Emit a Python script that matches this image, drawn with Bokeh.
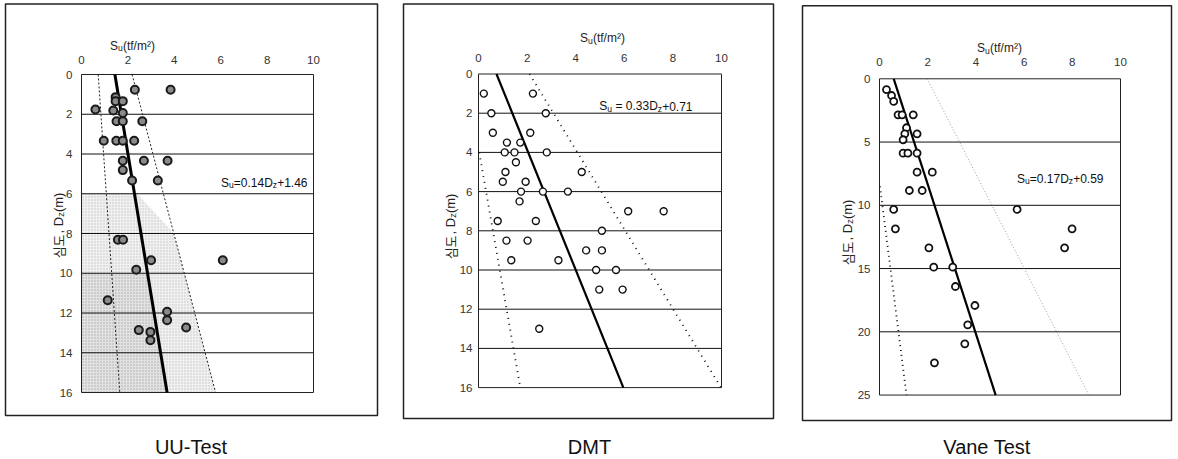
import math
from bokeh.plotting import figure
from bokeh.models import Range1d, LinearAxis, FixedTicker
from bokeh.layouts import row
from bokeh.embed import file_html
from bokeh.resources import INLINE
from bokeh.core.properties import value

# ---------------- data ----------------
# UU-Test
uu_su = [2.30, 3.84, 1.47, 1.47, 1.78, 0.60, 1.37, 1.78, 1.51, 1.78, 2.62, 0.96, 1.50, 1.78, 2.27,
         1.78, 2.69, 3.71, 1.78, 2.18, 3.29, 1.57, 1.79, 3.00, 6.09, 2.36, 1.13, 3.69, 3.69, 4.51,
         2.47, 2.97, 2.97]
uu_d = [0.77, 0.77, 1.14, 1.34, 1.34, 1.76, 1.81, 1.94, 2.35, 2.35, 2.35, 3.33, 3.33, 3.33, 3.33,
        4.34, 4.34, 4.34, 4.81, 5.33, 5.33, 8.31, 8.31, 9.35, 9.35, 9.82, 11.36, 11.94, 12.36, 12.73,
        12.86, 12.95, 13.37]
uu_fit_su = [1.44, 3.69]
uu_fit_d = [0, 16]
uu_up_su = [2.18, 5.78]
uu_up_d = [0, 16]
uu_lo_su = [0.72, 1.65]
uu_lo_d = [0, 16]
uu_light_su = [0, 2.4, 3.98, 5.78, 0]
uu_light_d = [6, 6, 8, 16, 16]
uu_dark_su = [0, 2.86, 3.69, 0]
uu_dark_d = [10, 10, 16, 16]
uu_xticks = [0, 2, 4, 6, 8, 10]
uu_yticks = [0, 2, 4, 6, 8, 10, 12, 14, 16]
uu_grid = [2, 4, 6, 8, 10, 12, 14]

# DMT
dmt_su = [0.22, 2.24, 0.53, 2.77, 0.59, 2.13, 1.17, 1.72, 1.08, 1.48, 2.81, 1.54, 4.25, 1.11, 1.00,
          1.94, 1.75, 2.65, 3.68, 1.69, 6.16, 7.62, 0.79, 2.36, 5.08, 1.15, 2.02, 4.43, 5.08, 1.35,
          3.29, 4.84, 5.66, 4.97, 5.93, 2.50]
dmt_d = [1.0, 1.0, 2.0, 2.0, 3.0, 3.0, 3.5, 3.5, 4.0, 4.0, 4.0, 4.5, 5.0, 5.0, 5.5, 5.5, 6.0, 6.0,
         6.0, 6.5, 7.0, 7.0, 7.5, 7.5, 8.0, 8.5, 8.5, 9.0, 9.0, 9.5, 9.5, 10.0, 10.0, 11.0, 11.0, 13.0]
dmt_fit_su = [0.74, 5.96]
dmt_fit_d = [0, 16]
dmt_up_su = [2.10, 9.98]
dmt_up_d = [0, 16]
dmt_lo_su = [0.03, 1.72]
dmt_lo_d = [4.0, 16]
dmt_xticks = [0, 2, 4, 6, 8, 10]
dmt_yticks = [0, 2, 4, 6, 8, 10, 12, 14, 16]
dmt_grid = [2, 4, 6, 8, 10, 12, 14]

# Vane Test
vane_su = [0.29, 0.50, 0.59, 0.77, 0.94, 1.40, 1.12, 1.05, 1.56, 0.98, 0.98, 1.18, 1.56, 1.56, 2.19,
           1.24, 1.77, 0.59, 5.71, 0.66, 7.99, 2.05, 7.68, 2.25, 3.04, 3.15, 3.96, 3.66, 3.54, 2.28]
vane_d = [0.85, 1.32, 1.79, 2.85, 2.85, 2.85, 3.87, 4.35, 4.35, 4.82, 5.88, 5.88, 5.88, 7.38, 7.38,
          8.83, 8.83, 10.33, 10.33, 11.86, 11.86, 13.36, 13.36, 14.89, 14.89, 16.42, 17.92, 19.45,
          20.95, 22.45]
vane_fit_su = [0.59, 4.82]
vane_fit_d = [0, 25]
vane_lo_su = [0.02, 1.12]
vane_lo_d = [8.5, 25]
vane_up_su = [1.98, 8.69]
vane_up_d = [0, 25]
vane_xticks = [0, 2, 4, 6, 8, 10]
vane_yticks = [0, 5, 10, 15, 20, 25]
vane_grid = [5, 10, 15, 20]

titles = ["UU-Test", "DMT", "Vane Test"]
x_title = [("S", "n"), ("u", "sub"), ("(tf/m\u00b2)", "n")]
y_title = [("\uc2ec\ub3c4", "cjk"), (",", "n"), (" ", "gap"), ("D", "n"), ("z", "sub"), ("(m)", "n")]
eq_uu = [("S", "n"), ("u", "sub"), ("=0.14D", "n"), ("z", "sub"), ("+1.46", "n")]
eq_dmt = [("S", "n"), ("u", "sub"), (" ", "gap"), ("=", "n"), (" ", "gap"), ("0.33D", "n"),
          ("z", "sub"), ("+0.71", "n")]
eq_vane = [("S", "n"), ("u", "sub"), ("=0.17D", "n"), ("z", "sub"), ("+0.59", "n")]

# ---------------- text helpers ----------------
FONT = "Liberation Sans"
CJK = "Noto Sans CJK KR"
EM = {' ': .278, ',': .278, '.': .278, '(': .333, ')': .333, '/': .278, '=': .584, '+': .584,
      '-': .333, 'D': .722, 'S': .667, 'T': .611, 'M': .833, 'U': .722, 'V': .667, 'a': .556,
      'e': .556, 'f': .278, 'm': .833, 'n': .556, 's': .5, 't': .278, 'u': .556, 'z': .5,
      '\u00b2': .333}


def seg_width(text, kind, size):
    fs = size * 0.72 if kind == "sub" else size
    if kind == "cjk":
        return len(text) * fs * 0.96
    return sum(EM.get(c, .556) for c in text) * fs


def rich_text(p, x, y, segs, size, align="left", angle=0.0, color="#111111"):
    widths = [seg_width(t, k, size) for t, k in segs]
    total = sum(widths)
    off = {"left": 0.0, "center": -total / 2, "right": -total}[align]
    for (t, k), w in zip(segs, widths):
        if k != "gap":
            fs = size * 0.72 if k == "sub" else size
            shift = 0.22 * size if k == "sub" else 0.0
            if angle == 0:
                xo, yo = off, shift
            else:
                xo, yo = shift, -off
            p.text(x=[x], y=[y], text=[t], x_offset=xo, y_offset=yo, angle=angle,
                   text_font=value(CJK if k == "cjk" else FONT), text_font_size=f"{fs:.1f}px",
                   text_align="left", text_baseline="alphabetic", text_color=color)
        off += w


# ---------------- layout (reference pixel geometry) ----------------
H = 459
Y_TOP, Y_BOT = 0, 459

panels = [
    dict(R0=0, W=390, P0=81, sx=23.2, Q0=74, sy=19.875, box=(5, 3.5, 377, 415),
         xt=(132, 45), yl=(53, 225), eq=(307, 182), title=(190.5, 446), y_standoff=9, x_standoff=11,
         su=uu_su, d=uu_d, fit=(uu_fit_su, uu_fit_d), up=(uu_up_su, uu_up_d), lo=(uu_lo_su, uu_lo_d),
         xticks=uu_xticks, yticks=uu_yticks, grid=uu_grid, ymax=16, eqsegs=eq_uu),
    dict(R0=390, W=396, P0=478, sx=24.3, Q0=73.5, sy=19.6, box=(403, 3.5, 773, 418),
         xt=(602, 37.5), yl=(445, 226), eq=(692, 105.5), title=(589, 446), y_standoff=6, x_standoff=12,
         su=dmt_su, d=dmt_d, fit=(dmt_fit_su, dmt_fit_d), up=(dmt_up_su, dmt_up_d), lo=(dmt_lo_su, dmt_lo_d),
         xticks=dmt_xticks, yticks=dmt_yticks, grid=dmt_grid, ymax=16, eqsegs=eq_dmt),
    dict(R0=786, W=392, P0=879, sx=24.1, Q0=78.3, sy=12.65, box=(802, 5.3, 1171, 420),
         xt=(999, 47.5), yl=(842, 232), eq=(1103, 178), title=(986.5, 446), y_standoff=9, x_standoff=13,
         su=vane_su, d=vane_d, fit=(vane_fit_su, vane_fit_d), up=(vane_up_su, vane_up_d), lo=(vane_lo_su, vane_lo_d),
         xticks=vane_xticks, yticks=vane_yticks, grid=vane_grid, ymax=25, eqsegs=eq_vane),
]

figs = []
for i, c in enumerate(panels):
    P0, sx, Q0, sy = c["P0"], c["sx"], c["Q0"], c["sy"]
    fx = lambda px: (px - P0) / sx
    fy = lambda py: (py - Q0) / sy
    p = figure(width=c["W"], height=H, output_backend="svg", toolbar_location=None,
               x_range=Range1d(fx(c["R0"]), fx(c["R0"] + c["W"])),
               y_range=Range1d(fy(Y_BOT), fy(Y_TOP)),
               x_axis_type=None, y_axis_type=None, min_border=0,
               min_border_left=0, min_border_right=0, min_border_top=0, min_border_bottom=0)
    p.outline_line_color = None
    p.background_fill_color = "white"
    p.border_fill_color = "white"
    p.xgrid.visible = False
    p.ygrid.visible = False

    ymax = c["ymax"]
    # shading (UU only)
    if i == 0:
        p.patch(uu_light_su, uu_light_d, fill_color="#f0f0f0", line_color=None,
                hatch_pattern="dot", hatch_color="#c4c4c4", hatch_scale=3, hatch_weight=0.6)
        p.patch(uu_dark_su, uu_dark_d, fill_color="#e2e2e2", line_color=None,
                hatch_pattern="dot", hatch_color="#a8a8a8", hatch_scale=3, hatch_weight=0.6)

    # grid lines
    g = c["grid"]
    p.segment(x0=[0] * len(g), x1=[10] * len(g), y0=g, y1=g, line_color="#111111", line_width=1)

    # plot border
    p.quad(left=[0], right=[10], top=[0], bottom=[ymax], fill_color=None,
           line_color="#222222", line_width=1)

    # bound lines
    if i == 0:
        p.line(*c["up"], line_color="#222222", line_width=1, line_dash="2 2")
        p.line(*c["lo"], line_color="#222222", line_width=1, line_dash="2 2")
    elif i == 1:
        p.line(*c["up"], line_color="#111111", line_width=1.8, line_dash="1 5")
        p.line(*c["lo"], line_color="#111111", line_width=1.8, line_dash="1 5")
    else:
        p.line(*c["up"], line_color="#888888", line_width=0.8, line_dash="1 2")
        p.line(*c["lo"], line_color="#111111", line_width=1.8, line_dash="1 4")

    # fit line
    p.line(*c["fit"], line_color="black", line_width=3 if i == 0 else 2.2)

    # points
    if i == 0:
        p.scatter(c["su"], c["d"], marker="circle", size=8, line_width=2,
                  line_color="#1a1a1a", fill_color="#8a8a8a")
    elif i == 1:
        p.scatter(c["su"], c["d"], marker="circle", size=7, line_width=1.4,
                  line_color="#111111", fill_color="white")
    else:
        p.scatter(c["su"], c["d"], marker="circle", size=7, line_width=1.8,
                  line_color="#111111", fill_color="white")

    # axes fixed at the inner plot edges
    common = dict(axis_line_color=None, major_tick_line_color=None, minor_tick_line_color=None,
                  major_tick_in=0, major_tick_out=0, minor_tick_in=0, minor_tick_out=0,
                  major_label_text_font=FONT, major_label_text_font_size="11.5px",
                  major_label_text_color="#333333")
    xa = LinearAxis(fixed_location=0, ticker=FixedTicker(ticks=c["xticks"]), bounds=(0, 10),
                    major_label_standoff=c["x_standoff"], **common)
    p.add_layout(xa, "above")
    ya = LinearAxis(fixed_location=0, ticker=FixedTicker(ticks=c["yticks"]), bounds=(0, ymax),
                    major_label_standoff=c["y_standoff"], **common)
    p.add_layout(ya, "left")

    # outer box
    bl, bt, br, bb = c["box"]
    p.quad(left=[fx(bl)], right=[fx(br)], top=[fy(bt)], bottom=[fy(bb)], fill_color=None,
           line_color="#222222", line_width=1.5)

    # texts
    rich_text(p, fx(c["xt"][0]), fy(c["xt"][1]), x_title, 12, align="center", color="#222222")
    rich_text(p, fx(c["yl"][0] + 4.5), fy(c["yl"][1]), y_title, 13, align="center",
              angle=math.pi / 2, color="#222222")
    rich_text(p, fx(c["eq"][0]), fy(c["eq"][1]), c["eqsegs"], 12, align="right", color="#111111")
    p.text(x=[fx(c["title"][0])], y=[fy(c["title"][1])], text=[titles[i]],
           text_font=value(FONT), text_font_size="20px", text_align="center",
           text_baseline="alphabetic", text_color="#111111")
    figs.append(p)

layout = row(*figs)
open("out.html", "w").write(file_html(layout, INLINE))
